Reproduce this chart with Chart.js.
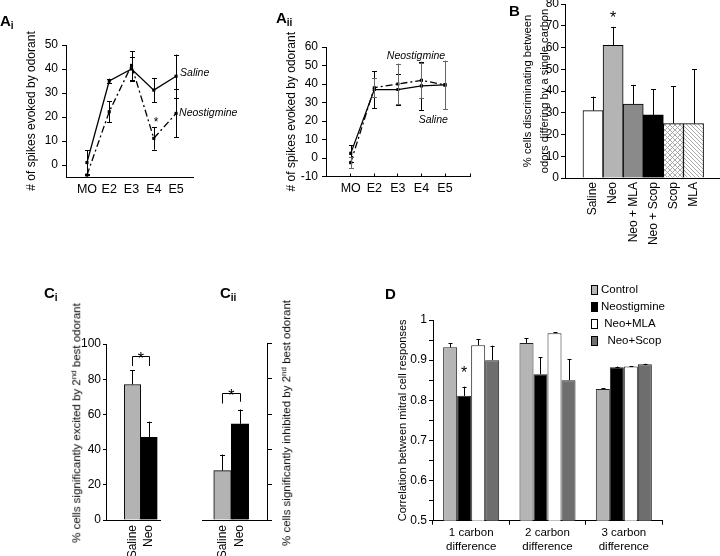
<!DOCTYPE html>
<html>
<head>
<meta charset="utf-8">
<title>Figure</title>
<script src="https://cdn.jsdelivr.net/npm/chart.js@4.4.1/dist/chart.umd.min.js"></script>
<style>
  html, body { margin:0; padding:0; background:#fff; }
  #fig { position:relative; width:720px; height:556px; overflow:hidden; background:#fff;
         font-family:"Liberation Sans", Arial, "DejaVu Sans", sans-serif; color:#000; }
  #fig canvas { position:absolute; }
  .pl { position:absolute; font-weight:bold; font-size:15px; line-height:15px; white-space:nowrap; }
  .pl sub { font-size:10px; vertical-align:-3px; line-height:0; }
  .vt { position:absolute; white-space:nowrap; font-size:11.5px; line-height:1;
        transform:translate(-50%,-50%) rotate(-90deg); }
  .vt sup { font-size:8px; vertical-align:4px; line-height:0; }
</style>
</head>
<body>
<div id="fig">
  <canvas id="cAi"></canvas>
  <canvas id="cAii"></canvas>
  <canvas id="cB"></canvas>
  <canvas id="cCi"></canvas>
  <canvas id="cCii"></canvas>
  <canvas id="cD"></canvas>
  <div class="pl" style="left:0px;top:13px">A<sub>i</sub></div>
  <div class="pl" style="left:276px;top:10px">A<sub>ii</sub></div>
  <div class="pl" style="left:509px;top:3px">B</div>
  <div class="pl" style="left:44px;top:285px">C<sub>i</sub></div>
  <div class="pl" style="left:220px;top:285px">C<sub>ii</sub></div>
  <div class="pl" style="left:385px;top:286px">D</div>
  <div class="vt" style="left:77px;top:423px">% cells significantly excited by 2<sup>nd</sup> best odorant</div>
  <div class="vt" style="left:287px;top:423px">% cells significantly inhibited by 2<sup>nd</sup> best odorant</div>
</div>
<script>
// ---------------- data ----------------
const timeLabels = ['MO', 'E2', 'E3', 'E4', 'E5'];

const aiYTicks = [0, 10, 20, 30, 40, 50];
const aiSaline = [1, 35, 40, 31.2, 37];
const aiSalineErr = [5.2, 1, 5, 5, 9];
const aiNeo = [-4.2, 22.2, 41.5, 11.1, 21.5];
const aiNeoErr = [0.6, 4.3, 6, 4.7, 10];

const aiiYTicks = [-10, 0, 10, 20, 30, 40, 50, 60];
const aiiSaline = [2.5, 37, 37, 39, 39.5];
const aiiSalineErr = [4.5, 10, 8.5, 13, 13];
const aiiNeo = [-2.5, 38, 40, 42, 39.5];
const aiiNeoErr = [3, 5, 11, 9.5, 13];

const bCategories = ['Saline', 'Neo', 'Neo + MLA', 'Neo + Scop', 'Scop', 'MLA'];
const bValues = [31, 61, 34, 29, 25, 25];
const bErrors = [6.4, 8.5, 8.8, 11.8, 17.2, 25.1];
const bYTicks = [0, 10, 20, 30, 40, 50, 60, 70, 80];

const cCategories = ['Saline', 'Neo'];
const ciValues = [77, 47];
const ciErrors = [8.2, 8.9];
const ciiValues = [28, 54.5];
const ciiErrors = [9.1, 8.1];
const cYTicks = [0, 20, 40, 60, 80, 100];

const dGroups = [['1 carbon', 'difference'], ['2 carbon', 'difference'], ['3 carbon', 'difference']];
const dSeriesNames = ['Control', 'Neostigmine', ' Neo+MLA', '  Neo+Scop'];
const dControl = [0.932, 0.943, 0.828];
const dControlErr = [0.010, 0.011, 0.002];
const dNeo = [0.811, 0.865, 0.882];
const dNeoErr = [0.023, 0.042, 0.002];
const dMla = [0.937, 0.967, 0.884];
const dMlaErr = [0.015, 0.002, 0.001];
const dScop = [0.900, 0.850, 0.890];
const dScopErr = [0.036, 0.053, 0.001];
const dYTicks = [0.5, 0.55, 0.6, 0.65, 0.7, 0.75, 0.8, 0.85, 0.9, 0.95, 1];

// ---------------- setup ----------------
const FONT = '"Liberation Sans", Arial, "DejaVu Sans", sans-serif';
Chart.defaults.font.family = FONT;
Chart.defaults.font.size = 12;
Chart.defaults.color = '#000';
Chart.defaults.animation = false;
Chart.defaults.events = [];
Chart.defaults.plugins.legend.display = false;
Chart.defaults.plugins.tooltip.enabled = false;

function place(id, b) {
  const c = document.getElementById(id);
  c.width = b.w; c.height = b.h;
  Object.assign(c.style, {left: b.x + 'px', top: b.y + 'px', width: b.w + 'px', height: b.h + 'px'});
  return c;
}
function frame(b, a, rightAxis) {
  if (rightAxis) {
    return { padding: {top: a.t - b.y, left: a.l - b.x, right: 0, bottom: 0},
             yW: b.x + b.w - a.r, xH: b.y + b.h - a.b };
  }
  return { padding: {top: a.t - b.y, right: b.x + b.w - a.r, left: 0, bottom: 0},
           yW: a.l - b.x, xH: b.y + b.h - a.b };
}
const zeroPad = s => { s.paddingLeft = s.paddingRight = s.paddingTop = s.paddingBottom = 0; };
const fixW = w => s => { s.width = w; zeroPad(s); };
const fixH = h => s => { s.height = h; zeroPad(s); };
const setTicks = vals => s => { s.ticks = vals.map(v => ({value: v})); };
const idx = arr => arr.map((_, i) => i + 1);
const xy = arr => arr.map((v, i) => ({x: i + 1, y: v}));
const val = d => (d !== null && typeof d === 'object') ? d.y : d;

// error bars plugin
const errPlugin = {
  id: 'errbars',
  afterDatasetsDraw(chart) {
    const ctx = chart.ctx;
    chart.data.datasets.forEach((ds, i) => {
      if (!ds.errors) return;
      const meta = chart.getDatasetMeta(i);
      const ys = chart.scales[meta.yAxisID];
      const cap = ds.errCap || 2.5;
      ctx.save();
      ctx.strokeStyle = ds.errColor || '#000';
      ctx.lineWidth = 1;
      meta.data.forEach((el, j) => {
        const e = ds.errors[j];
        if (!e) return;
        const v = val(ds.data[j]);
        const x = Math.round(el.x) + 0.5;
        const yt = ys.getPixelForValue(v + e);
        const yb = ds.errorMode === 'up' ? ys.getPixelForValue(v) : ys.getPixelForValue(v - e);
        ctx.beginPath();
        ctx.moveTo(x, yb); ctx.lineTo(x, yt);
        ctx.moveTo(x - cap, Math.round(yt) + 0.5); ctx.lineTo(x + cap, Math.round(yt) + 0.5);
        if (ds.errorMode !== 'up') {
          ctx.moveTo(x - cap, Math.round(yb) + 0.5); ctx.lineTo(x + cap, Math.round(yb) + 0.5);
        }
        ctx.stroke();
      });
      ctx.restore();
    });
  }
};

// notes plugin: texts, stars and brackets placed in data coordinates
const notesPlugin = {
  id: 'notes',
  afterDatasetsDraw(chart, args, o) {
    if (!o || (!o.texts && !o.brackets)) return;
    const ctx = chart.ctx;
    const xs = chart.scales.x, ys = chart.scales.y;
    (o.brackets || []).forEach(b => {
      const x1 = Math.round(xs.getPixelForValue(b.x1)) + 0.5;
      const x2 = Math.round(xs.getPixelForValue(b.x2)) + 0.5;
      const yt = Math.round(ys.getPixelForValue(b.top)) + 0.5;
      ctx.save();
      ctx.strokeStyle = '#000'; ctx.lineWidth = 1;
      ctx.beginPath();
      ctx.moveTo(x1, ys.getPixelForValue(b.l1)); ctx.lineTo(x1, yt);
      ctx.lineTo(x2, yt); ctx.lineTo(x2, ys.getPixelForValue(b.l2));
      ctx.stroke();
      ctx.restore();
    });
    (o.texts || []).forEach(t => {
      let x;
      if (t.ds !== undefined) x = chart.getDatasetMeta(t.ds).data[t.idx].x;
      else x = xs.getPixelForValue(t.x);
      let y = ys.getPixelForValue(t.y);
      ctx.save();
      ctx.font = (t.style || 'normal') + ' ' + t.size + 'px ' + FONT;
      ctx.fillStyle = '#000';
      ctx.textAlign = t.align || 'center';
      ctx.textBaseline = 'middle';
      if (t.star) y += 0.23 * t.size;
      ctx.fillText(t.text, x + (t.dx || 0), y);
      ctx.restore();
    });
  }
};

// boxed legend plugin (used for panel D)
const boxLegend = {
  id: 'boxLegend',
  afterDraw(chart, args, o) {
    if (!o || !o.show) return;
    const ctx = chart.ctx;
    chart.data.datasets.forEach((ds, i) => {
      const cy = o.y + i * o.gap;
      ctx.save();
      ctx.fillStyle = ds.backgroundColor;
      ctx.fillRect(o.x, cy - o.bh / 2, o.bw, o.bh);
      ctx.strokeStyle = '#000'; ctx.lineWidth = 1;
      ctx.strokeRect(o.x + 0.5, Math.round(cy - o.bh / 2) + 0.5, o.bw - 1, o.bh - 1);
      ctx.font = o.size + 'px ' + FONT;
      ctx.fillStyle = '#000';
      ctx.textAlign = 'left'; ctx.textBaseline = 'middle';
      ctx.fillText(ds.label, o.x + o.tx, cy);
      ctx.restore();
    });
  }
};
Chart.register(errPlugin, notesPlugin, boxLegend);

function makePattern(kind) {
  const s = kind === 'cross' ? 5 : 4;
  const c = document.createElement('canvas');
  c.width = s; c.height = s;
  const g = c.getContext('2d');
  g.fillStyle = '#fff'; g.fillRect(0, 0, s, s);
  g.strokeStyle = '#a0a0a0'; g.lineWidth = 0.9;
  g.beginPath();
  if (kind === 'cross') {
    g.moveTo(0, 0); g.lineTo(s, s);
    g.moveTo(s, 0); g.lineTo(0, s);
  } else {
    g.moveTo(-1, -1); g.lineTo(s + 1, s + 1);
    g.moveTo(-1, s - 1); g.lineTo(1, s + 1);
    g.moveTo(s - 1, -1); g.lineTo(s + 1, 1);
  }
  g.stroke();
  return g.createPattern(c, 'repeat');
}

function lineSet(label, values, errs, dash, errColor) {
  return {
    label, data: xy(values), errors: errs, errorMode: 'both', errColor, errCap: 2.5,
    borderColor: '#000', borderWidth: 1.3, borderDash: dash, fill: false, tension: 0,
    pointStyle: 'rect', pointRadius: 2.2, pointBackgroundColor: '#000', pointBorderColor: '#000', pointBorderWidth: 0
  };
}
const axisBorder = {display: true, color: '#000', width: 1};
const outTicks = len => ({display: true, drawOnChartArea: false, drawTicks: true, tickLength: len, color: '#000', lineWidth: 1});

// ---------------- Panel Ai ----------------
const boxAi = {x: 0, y: 0, w: 240, h: 240};
const fAi = frame(boxAi, {l: 66, t: 45, r: 193, b: 177});
new Chart(place('cAi', boxAi), {
  type: 'line',
  data: { datasets: [
    lineSet('Saline', aiSaline, aiSalineErr, [], '#000'),
    lineSet('Neostigmine', aiNeo, aiNeoErr, [7, 3, 2, 3], '#000')
  ]},
  options: {
    responsive: false,
    layout: {padding: fAi.padding},
    plugins: { notes: { texts: [
      {x: 5, y: 38.2, text: 'Saline', size: 10.5, style: 'italic', align: 'left', dx: 4},
      {x: 5, y: 21.8, text: 'Neostigmine', size: 10.5, style: 'italic', align: 'left', dx: 3},
      {x: 4.1, y: 18.7, text: '*', size: 12, star: true}
    ]}},
    scales: {
      x: { type: 'linear', min: 0.06, max: 5.76, offset: false,
           afterFit: fixH(fAi.xH), afterBuildTicks: setTicks(idx(timeLabels)),
           ticks: {callback: v => timeLabels[Math.round(v) - 1] ?? '', autoSkip: false, maxRotation: 0, padding: 5, font: {size: 12.5}},
           grid: {display: false, drawTicks: false}, border: axisBorder },
      y: { min: -5, max: 50,
           afterFit: fixW(fAi.yW), afterBuildTicks: setTicks(aiYTicks),
           ticks: {padding: 4, font: {size: 12}},
           grid: outTicks(4), border: axisBorder,
           title: {display: true, text: '# of spikes evoked by odorant', font: {size: 12}, padding: {top: 24.8, bottom: 0}} }
    }
  }
});

// ---------------- Panel Aii ----------------
const boxAii = {x: 240, y: 0, w: 240, h: 240};
const fAii = frame(boxAii, {l: 326, t: 47, r: 470, b: 176.5});
new Chart(place('cAii', boxAii), {
  type: 'line',
  data: { datasets: [
    lineSet('Saline', aiiSaline, aiiSalineErr, [], '#000'),
    lineSet('Neostigmine', aiiNeo, aiiNeoErr, [7, 3, 2, 3], '#666')
  ]},
  options: {
    responsive: false,
    layout: {padding: fAii.padding},
    plugins: { notes: { texts: [
      {x: 3.77, y: 55, text: 'Neostigmine', size: 10.5, style: 'italic'},
      {x: 4.5, y: 20.4, text: 'Saline', size: 10.5, style: 'italic'}
    ]}},
    scales: {
      x: { type: 'linear', min: -0.05, max: 6.06, offset: false,
           afterFit: fixH(fAii.xH), afterBuildTicks: setTicks(idx(timeLabels).concat([6.06])),
           ticks: {callback: v => timeLabels[Math.round(v) - 1] ?? '', autoSkip: false, maxRotation: 0, padding: 7.5, font: {size: 12.5}},
           grid: {display: true, drawOnChartArea: false, drawTicks: true, tickLength: -3, color: '#000'}, border: axisBorder },
      y: { min: -10, max: 60,
           afterFit: fixW(fAii.yW), afterBuildTicks: setTicks(aiiYTicks),
           ticks: {padding: 4, font: {size: 12}},
           grid: outTicks(4), border: axisBorder,
           title: {display: true, text: '# of spikes evoked by odorant', font: {size: 12}, padding: {top: 44.8, bottom: 0}} }
    }
  }
});

// ---------------- Panel B ----------------
const boxB = {x: 470, y: 0, w: 250, h: 280};
const fB = frame(boxB, {l: 565, t: 4, r: 720, b: 178});
new Chart(place('cB', boxB), {
  type: 'bar',
  data: { datasets: [{
    label: '% cells discriminating',
    data: xy(bValues), errors: bErrors, errorMode: 'up', errCap: 2.5,
    backgroundColor: ['#ffffff', '#b4b4b4', '#8a8a8a', '#000000', makePattern('cross'), makePattern('diag')],
    borderColor: '#000', borderWidth: 1, categoryPercentage: 1, barPercentage: 1
  }]},
  options: {
    responsive: false,
    layout: {padding: fB.padding},
    plugins: { notes: { texts: [ {x: 2, y: 75, text: '*', size: 16, star: true} ]}},
    scales: {
      x: { type: 'linear', min: -0.393, max: 7.318, offset: false,
           afterFit: fixH(fB.xH), afterBuildTicks: setTicks(idx(bCategories)),
           ticks: {callback: v => bCategories[Math.round(v) - 1] ?? '', autoSkip: false, minRotation: 90, maxRotation: 90, padding: 4, font: {size: 12}},
           grid: {display: false, drawTicks: false, offset: false}, border: axisBorder },
      y: { min: 0, max: 80,
           afterFit: fixW(fB.yW), afterBuildTicks: setTicks(bYTicks),
           ticks: {padding: 2, font: {size: 12}},
           grid: outTicks(4), border: axisBorder,
           title: {display: true, text: ['% cells discriminating between', 'odors differing by a single carbon'],
                   font: {size: 11.2, lineHeight: 1.5}, padding: {top: 49.6, bottom: 0}} }
    }
  }
});

// ---------------- Panel Ci ----------------
const boxCi = {x: 50, y: 280, w: 120, h: 276};
const fCi = frame(boxCi, {l: 106, t: 344, r: 160, b: 520});
new Chart(place('cCi', boxCi), {
  type: 'bar',
  data: { datasets: [{
    label: 'excited',
    data: xy(ciValues), errors: ciErrors, errorMode: 'up', errCap: 2.5,
    backgroundColor: ['#b3b3b3', '#000000'], borderColor: '#000', borderWidth: 1,
    categoryPercentage: 1, barPercentage: 1
  }]},
  options: {
    responsive: false,
    layout: {padding: fCi.padding},
    plugins: { notes: {
      brackets: [{x1: 1, x2: 2, top: 93, l1: 87.5, l2: 87.5}],
      texts: [{x: 1.5, y: 93, text: '*', size: 16, star: true}]
    }},
    scales: {
      x: { type: 'linear', min: -0.606, max: 2.667, offset: false,
           afterFit: fixH(fCi.xH), afterBuildTicks: setTicks(idx(cCategories)),
           ticks: {callback: v => cCategories[Math.round(v) - 1] ?? '', autoSkip: false, minRotation: 90, maxRotation: 90, padding: 5, font: {size: 12}},
           grid: {display: false, drawTicks: false, offset: false}, border: axisBorder },
      y: { min: 0, max: 100,
           afterFit: fixW(fCi.yW), afterBuildTicks: setTicks(cYTicks),
           ticks: {padding: 2, font: {size: 12}},
           grid: outTicks(3), border: axisBorder }
    }
  }
});

// ---------------- Panel Cii ----------------
const boxCii = {x: 190, y: 280, w: 110, h: 276};
const fCii = frame(boxCii, {l: 202, t: 343.5, r: 267, b: 520}, true);
new Chart(place('cCii', boxCii), {
  type: 'bar',
  data: { datasets: [{
    label: 'inhibited',
    data: xy(ciiValues), errors: ciiErrors, errorMode: 'up', errCap: 2.5,
    backgroundColor: ['#b3b3b3', '#000000'], borderColor: '#000', borderWidth: 1,
    categoryPercentage: 1, barPercentage: 1
  }]},
  options: {
    responsive: false,
    layout: {padding: fCii.padding},
    plugins: { notes: {
      brackets: [{x1: 1, x2: 2, top: 72, l1: 66, l2: 67}],
      texts: [{x: 1.5, y: 72, text: '*', size: 16, star: true}]
    }},
    scales: {
      x: { type: 'linear', min: -0.17, max: 3.54, offset: false,
           afterFit: fixH(fCii.xH), afterBuildTicks: setTicks(idx(cCategories)),
           ticks: {callback: v => cCategories[Math.round(v) - 1] ?? '', autoSkip: false, minRotation: 90, maxRotation: 90, padding: 5, font: {size: 12}},
           grid: {display: false, drawTicks: false, offset: false}, border: axisBorder },
      y: { position: 'right', min: 0, max: 100,
           afterFit: fixW(fCii.yW), afterBuildTicks: setTicks(cYTicks),
           ticks: {display: false},
           grid: outTicks(5), border: axisBorder }
    }
  }
});

// ---------------- Panel D ----------------
const boxD = {x: 340, y: 280, w: 380, h: 276};
const fD = frame(boxD, {l: 433, t: 320, r: 662, b: 520.7});
const dSet = (label, data, errs, color) => ({
  label, data, errors: errs, errorMode: 'up', errCap: 2,
  backgroundColor: color, borderColor: '#222', borderWidth: 1,
  categoryPercentage: 0.734, barPercentage: 1
});
new Chart(place('cD', boxD), {
  type: 'bar',
  data: {
    labels: dGroups,
    datasets: [
      dSet(dSeriesNames[0], dControl, dControlErr, '#b5b5b5'),
      dSet(dSeriesNames[1], dNeo, dNeoErr, '#000000'),
      dSet(dSeriesNames[2], dMla, dMlaErr, '#ffffff'),
      dSet(dSeriesNames[3], dScop, dScopErr, '#6e6e6e')
    ]
  },
  options: {
    responsive: false,
    layout: {padding: fD.padding},
    plugins: {
      notes: { texts: [{ds: 1, idx: 0, y: 0.875, text: '*', size: 16, star: true}] },
      boxLegend: {show: true, x: 251, y: 10, gap: 17, bw: 7, bh: 10, tx: 10, size: 11.5}
    },
    scales: {
      x: { afterFit: fixH(fD.xH),
           ticks: {autoSkip: false, maxRotation: 0, padding: 1.4, font: {size: 11.5}},
           grid: {display: true, offset: true, drawOnChartArea: false, drawTicks: true, tickLength: 4, color: '#000'},
           border: axisBorder },
      y: { min: 0.5, max: 1,
           afterFit: fixW(fD.yW), afterBuildTicks: setTicks(dYTicks),
           ticks: {padding: 2, font: {size: 12}, callback: v => {
             const t = Math.round(v * 100);
             return t % 10 === 0 ? String(t / 100) : '';
           }},
           grid: outTicks(4), border: axisBorder,
           title: {display: true, text: 'Correlation between mitral cell responses', font: {size: 11}, padding: {top: 56.4, bottom: 0}} }
    }
  }
});
</script>
</body>
</html>
